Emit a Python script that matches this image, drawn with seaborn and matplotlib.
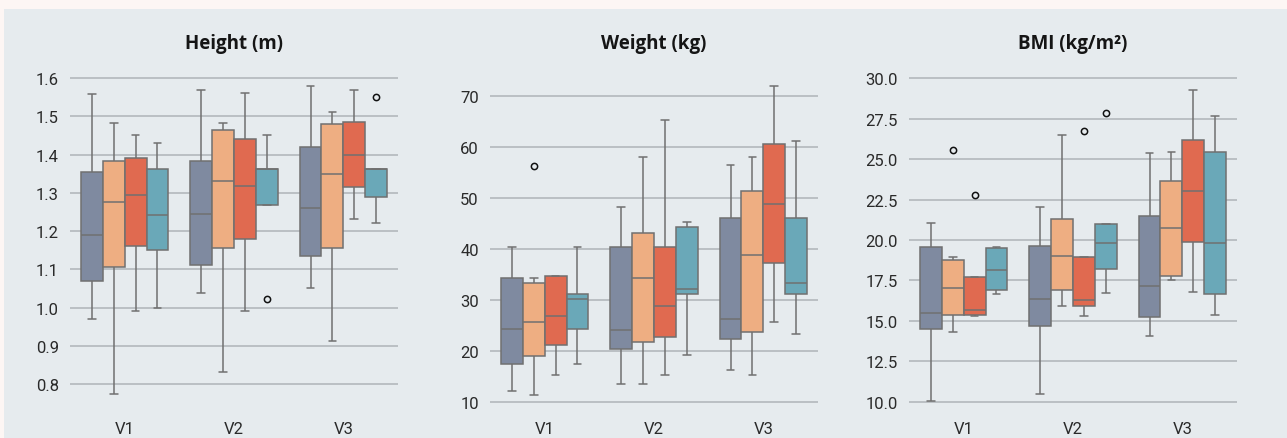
import numpy as np
import pandas as pd
import matplotlib
matplotlib.use("Agg")
import matplotlib.pyplot as plt
from matplotlib.patches import Rectangle
import seaborn as sns

# groups on the x axis and the four boxes inside each group
visits = ["V1", "V2", "V3"]
groups = ["G1", "G2", "G3", "G4"]
palette = ["#7f8aa0", "#eeae82", "#e06a50", "#6aa8b8"]

# five-number summaries, order: V1 (G1..G4), V2 (G1..G4), V3 (G1..G4)
height_lo = [0.970, 0.773, 0.991, 1.000, 1.039, 0.832, 0.991, 1.269, 1.051, 0.912, 1.231, 1.222]
height_q1 = [1.069, 1.106, 1.161, 1.151, 1.110, 1.156, 1.179, 1.269, 1.134, 1.156, 1.315, 1.290]
height_med = [1.189, 1.277, 1.294, 1.243, 1.245, 1.330, 1.318, 1.361, 1.260, 1.350, 1.400, 1.361]
height_q3 = [1.353, 1.384, 1.390, 1.361, 1.384, 1.463, 1.441, 1.361, 1.420, 1.479, 1.486, 1.361]
height_hi = [1.559, 1.482, 1.451, 1.430, 1.570, 1.482, 1.562, 1.451, 1.580, 1.510, 1.570, 1.361]

weight_lo = [12.1, 11.3, 15.3, 17.5, 13.5, 13.6, 15.3, 19.3, 16.3, 15.3, 25.6, 23.4]
weight_q1 = [17.4, 19.1, 21.2, 24.3, 20.4, 21.7, 22.8, 31.1, 22.3, 23.8, 37.2, 31.2]
weight_med = [24.3, 25.6, 26.8, 30.2, 24.2, 34.3, 28.8, 32.2, 26.2, 38.8, 48.9, 33.3]
weight_q3 = [34.3, 33.3, 34.7, 31.2, 40.3, 43.1, 40.3, 44.3, 46.1, 51.3, 60.6, 46.1]
weight_hi = [40.4, 34.4, 34.7, 40.4, 48.2, 58.1, 65.3, 45.2, 56.4, 58.1, 72.0, 61.1]

bmi_lo = [10.08, 14.32, 15.29, 16.69, 10.51, 15.95, 15.31, 16.71, 14.07, 17.51, 16.77, 15.39]
bmi_q1 = [14.53, 15.37, 15.35, 16.91, 14.69, 16.93, 15.93, 18.23, 15.27, 17.76, 19.88, 16.69]
bmi_med = [15.47, 17.02, 15.70, 18.13, 16.38, 19.01, 16.28, 19.84, 17.18, 20.72, 23.01, 19.81]
bmi_q3 = [19.57, 18.74, 17.70, 19.49, 19.63, 21.28, 18.93, 20.99, 21.48, 23.63, 26.16, 25.42]
bmi_hi = [21.05, 18.93, 17.70, 19.57, 22.06, 26.47, 18.93, 20.99, 25.40, 25.44, 29.26, 27.68]

# outliers: (visit, group, value)
height_out = [("V2", "G4", 1.021), ("V3", "G4", 1.551)]
weight_out = [("V1", "G2", 56.2)]
bmi_out = [("V1", "G2", 25.58), ("V1", "G3", 22.81), ("V2", "G3", 26.71), ("V2", "G4", 27.86)]

panels = [
    ("Height (m)", [height_lo, height_q1, height_med, height_q3, height_hi], height_out,
     (0.732, 1.621), [0.8, 0.9, 1.0, 1.1, 1.2, 1.3, 1.4, 1.5, 1.6], "{:.1f}"),
    ("Weight (kg)", [weight_lo, weight_q1, weight_med, weight_q3, weight_hi], weight_out,
     (8.43, 75.1), [10, 20, 30, 40, 50, 60, 70], "{:.0f}"),
    ("BMI (kg/m²)", [bmi_lo, bmi_q1, bmi_med, bmi_q3, bmi_hi], bmi_out,
     (9.5, 30.5), [10.0, 12.5, 15.0, 17.5, 20.0, 22.5, 25.0, 27.5, 30.0], "{:.1f}"),
]

fig_bg = "#fdf6f4"
panel_bg = "#e6ebee"
grid_col = "#b3b8bc"
edge_col = "#707070"

sns.set_style("white")
plt.rcParams["font.family"] = ["Roboto", "DejaVu Sans"]

fig = plt.figure(figsize=(12.87, 4.39), dpi=100, facecolor=fig_bg)
fig.patches.append(Rectangle((4 / 1287, 0), 1, 429 / 439, transform=fig.transFigure,
                             facecolor=panel_bg, edgecolor="none", zorder=-10))

lefts = [70, 490, 909]
for (title, stats, outs, ylim, yticks, fmt), left in zip(panels, lefts):
    ax = fig.add_axes([left / 1287, 1 - 411 / 439, 328 / 1287, 340 / 439])
    ax.set_facecolor(panel_bg)

    # build 5 points per box so the quartiles land exactly on the summary values
    rows = []
    for i, v in enumerate(visits):
        for j, g in enumerate(groups):
            k = i * 4 + j
            for s in stats:
                rows.append({"visit": v, "group": g, "value": s[k]})
    df = pd.DataFrame(rows)

    sns.boxplot(data=df, x="visit", y="value", hue="group", order=visits, hue_order=groups,
                palette=palette, whis=(0, 100), width=0.8, gap=0, saturation=1,
                linecolor=edge_col, linewidth=1.1, legend=False, ax=ax,
                capwidths=0.07)

    odf = pd.DataFrame(outs, columns=["visit", "group", "value"])
    sns.stripplot(data=odf, x="visit", y="value", hue="group", order=visits, hue_order=groups,
                  palette={g: panel_bg for g in groups}, dodge=True, jitter=False,
                  size=4.5, linewidth=1.1, edgecolor="#111111", legend=False, ax=ax)

    ax.set_xlim(-0.5, 2.5)
    ax.set_ylim(*ylim)
    ax.set_yticks(yticks)
    ax.set_yticklabels([fmt.format(t) for t in yticks])
    ax.yaxis.grid(True, color=grid_col, linewidth=1.2)
    ax.set_axisbelow(True)
    ax.tick_params(axis="both", length=0, labelsize=12, labelcolor="#2a2a2a", pad=8)
    ax.set_xlabel("")
    ax.set_ylabel("")
    for sp in ax.spines.values():
        sp.set_visible(False)
    ax.set_title(title, fontsize=13.5, fontweight="bold", color="#151515",
                 family=["Open Sans", "DejaVu Sans"], pad=16)

fig.savefig("out.png", dpi=100, facecolor=fig_bg)
